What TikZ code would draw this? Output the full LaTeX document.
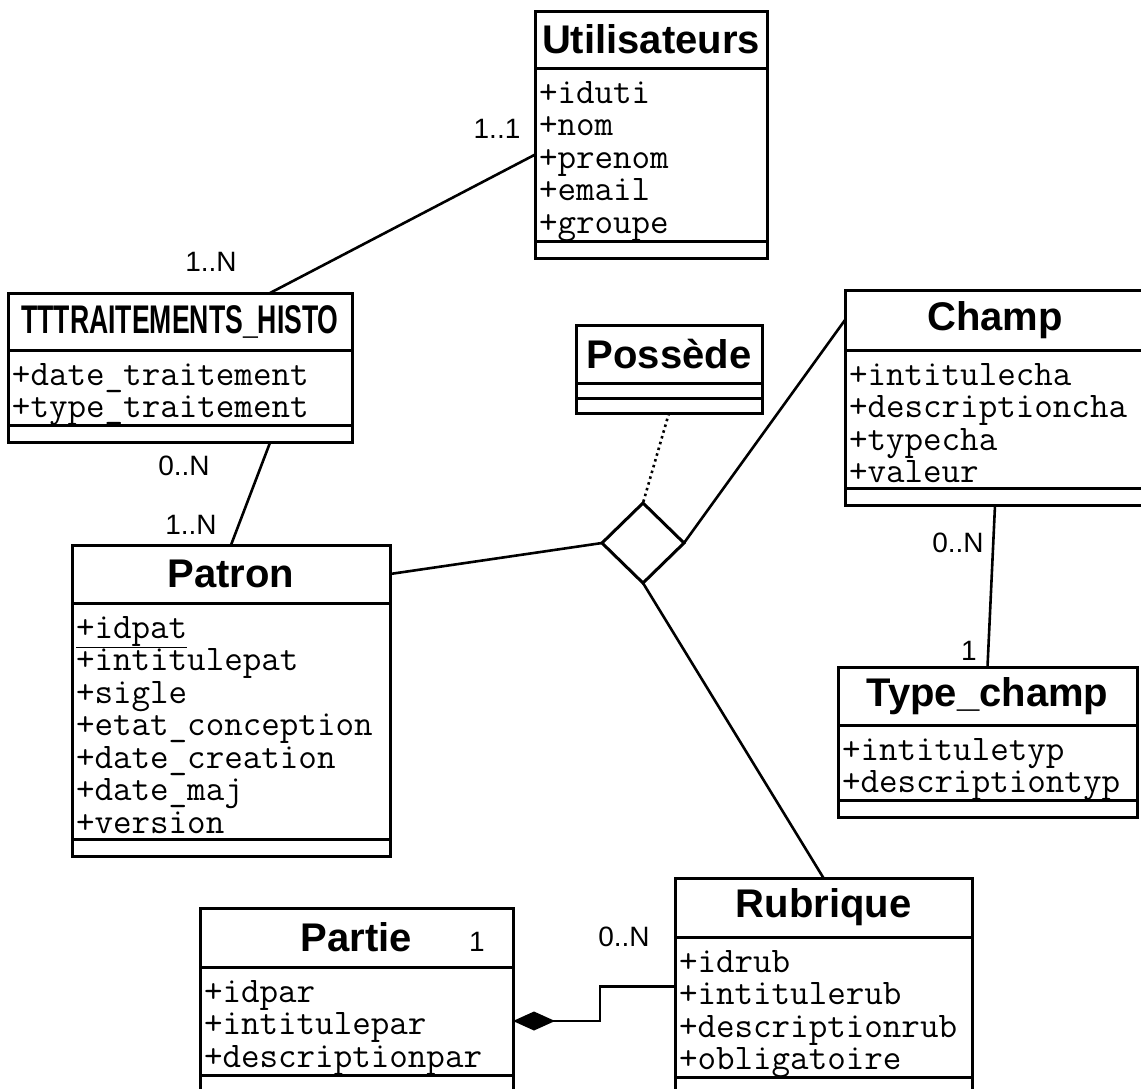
\documentclass[tikz,border=0pt]{standalone}
\usepackage{fontspec}
\setsansfont{Liberation Sans}
\usepackage{tikz}
\usetikzlibrary{
  positioning,
  arrows.meta,
  shapes.geometric
}
\newcommand{\atr}[1]{\rule[-6pt]{0pt}{41pt}#1}

\begin{document}
\begin{tikzpicture}[x=1pt,y=-1pt,
  cls/.style={draw,line width=3pt,inner sep=0pt,outer sep=0pt},
  ttl/.style={cls,anchor=north west,minimum height=58pt,
    font=\sffamily\bfseries\fontsize{40}{42}\selectfont},
  attrs/.style={cls,align=left,inner xsep=4pt,inner ysep=0pt,
    font=\ttfamily\fontsize{36}{32.5}\selectfont,
    execute at begin node={\setlength{\lineskiplimit}{-100pt}}},
  ops/.style={cls,minimum height=17pt},
  mult/.style={inner sep=0pt,font=\sffamily\fontsize{28}{30}\selectfont},
  assoc/.style={line width=2.6pt},
  dep/.style={line width=2.6pt,dash pattern=on 2.5pt off 3.5pt},
  comp/.style={{Diamond[length=42pt,width=19pt]}-,line width=2.6pt},
]
\path[use as bounding box] (0,0) rectangle (1141,1088);

% —— classes ——
\node[ttl,minimum width=232pt,minimum height=57pt] (util) at (535,11) {Utilisateurs};
\node[attrs,text width=224pt,below=0pt of util] (util-a)
  {\atr{+iduti}\\\atr{+nom}\\\atr{+prenom}\\\atr{+email}\\\atr{+groupe}};
\node[ops,minimum width=232pt,below=0pt of util-a] (util-o) {};

\node[ttl,minimum width=344pt,minimum height=57pt] (tt) at (8,293)
  {\scalebox{0.665}[1]{TTTRAITEMENTS\_HISTO}};
\node[attrs,text width=336pt,below=0pt of tt] (tt-a)
  {\atr{+date\_traitement}\\\atr{+type\_traitement}};
\node[ops,minimum width=344pt,below=0pt of tt-a] (tt-o) {};

\node[ttl,minimum width=186pt] (poss) at (576,325) {Possède};
\node[ops,minimum width=186pt,minimum height=15pt,below=0pt of poss] (poss-a) {};
\node[ops,minimum width=186pt,minimum height=15pt,below=0pt of poss-a] (poss-o) {};

\node[ttl,minimum width=300pt,minimum height=60pt] (champ) at (845,290) {Champ};
\node[attrs,text width=292pt,below=0pt of champ] (champ-a)
  {\atr{+intitulecha}\\\atr{+descriptioncha}\\\atr{+typecha}\\\atr{+valeur}};
\node[ops,minimum width=300pt,below=0pt of champ-a] (champ-o) {};

\node[ttl,minimum width=318pt] (patron) at (72,545) {Patron};
\node[attrs,text width=310pt,below=0pt of patron] (patron-a)
  {\atr{\underline{+idpat}}\\\atr{+intitulepat}\\\atr{+sigle}\\\atr{+etat\_conception}\\
   \atr{+date\_creation}\\\atr{+date\_maj}\\\atr{+version}};
\node[ops,minimum width=318pt,below=0pt of patron-a] (patron-o) {};

\node[ttl,minimum width=299pt] (typ) at (838,667) {Type\_champ};
\node[attrs,text width=291pt,below=0pt of typ] (typ-a)
  {\atr{+intituletyp}\\\atr{+descriptiontyp}};
\node[ops,minimum width=299pt,below=0pt of typ-a] (typ-o) {};

\node[ttl,minimum width=297pt,minimum height=59pt] (rub) at (675,878) {Rubrique};
\node[attrs,text width=289pt,below=0pt of rub] (rub-a)
  {\atr{+idrub}\\\atr{+intitulerub}\\\atr{+descriptionrub}\\\atr{+obligatoire}};
\node[ops,minimum width=297pt,below=0pt of rub-a] (rub-o) {};

\node[ttl,minimum width=313pt,minimum height=59pt] (partie) at (200,908) {Partie};
\node[attrs,text width=305pt,below=0pt of partie] (partie-a)
  {\atr{+idpar}\\\atr{+intitulepar}\\\atr{+descriptionpar}};
\node[ops,minimum width=313pt,below=0pt of partie-a] (partie-o) {};

% —— association n-aire ——
\node[cls,diamond,minimum width=82pt,minimum height=80pt] (ent) at (643,543) {};

% —— cardinalités ——
\node[mult] (m1) at (497,129) {1..1};
\node[mult] (m2) at (211,262) {1..N};
\node[mult] (m3) at (184,466) {0..N};
\node[mult] (m4) at (191,525) {1..N};
\node[mult] (m5) at (958,543) {0..N};
\node[mult] (m6) at (969,651) {1};
\node[mult] (m7) at (624,937) {0..N};
\node[mult] (m8) at (477,942) {1};

% —— liens ——
\draw[assoc] (util-a.west)--([xshift=90pt]tt.north);
\draw[assoc] ([xshift=90pt]tt-o.south)--(patron.north);
\foreach \s/\t in {patron.east/ent.west,ent.east/champ.west,ent.south/rub.north,champ-o.south/typ.north}
  \draw[assoc] (\s)--(\t);
\draw[dep] (poss-o.south)--(ent.north);
\draw[comp] (partie-a.east)--++(87,0)|-([yshift=21pt]rub-a.west);
\end{tikzpicture}
\end{document}
